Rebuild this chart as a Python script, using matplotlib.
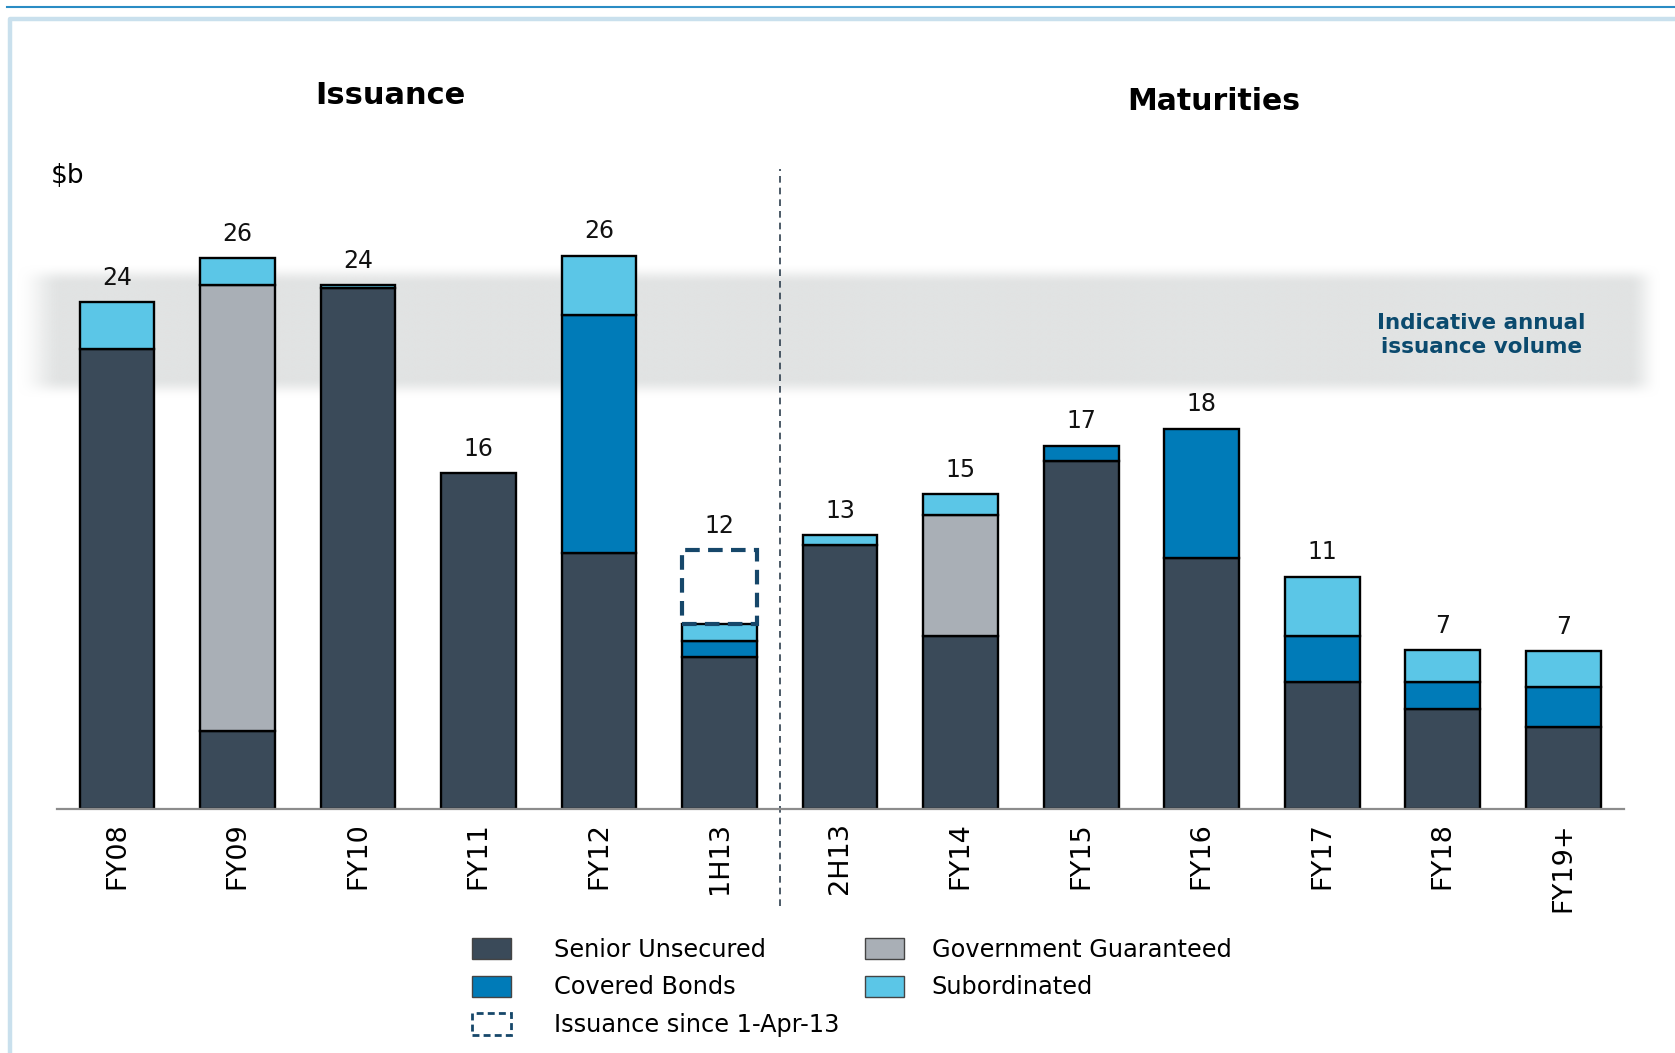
import numpy as np
import matplotlib
matplotlib.use('Agg')
import matplotlib.pyplot as plt
from matplotlib.patches import Patch
from matplotlib.lines import Line2D

# values in $b
cats = ['FY08', 'FY09', 'FY10', 'FY11', 'FY12', '1H13', '2H13',
        'FY14', 'FY15', 'FY16', 'FY17', 'FY18', 'FY19+']
senior = [21.8, 3.7, 24.7, 15.9, 12.1, 7.2, 12.5, 8.2, 16.5, 11.9, 6.0, 4.7, 3.85]
gov = [0, 21.1, 0, 0, 0, 0, 0, 5.7, 0, 0, 0, 0, 0]
covered = [0, 0, 0, 0, 11.3, 0.75, 0, 0, 0.7, 6.1, 2.2, 1.3, 1.9]
subord = [2.2, 1.3, 0.12, 0, 2.8, 0.8, 0.45, 1.0, 0, 0, 2.8, 1.5, 1.7]
since_apr = [0, 0, 0, 0, 0, 3.5, 0, 0, 0, 0, 0, 0, 0]
totals = [24, 26, 24, 16, 26, 12, 13, 15, 17, 18, 11, 7, 7]
band_lo, band_hi = 20.3, 24.9

c_senior = '#3a4a59'
c_gov = '#a9afb6'
c_cov = '#007bb8'
c_sub = '#5bc6e7'
c_dash = '#16476a'

fig = plt.figure(figsize=(16.75, 10.53), dpi=100)
ax = fig.add_axes([0.0338, 0.2321, 0.9355, 0.601])

x = np.arange(len(cats))
w = 0.62

# soft grey band
xs = np.linspace(-1.0, 13.0, 700)
ys = np.linspace(18.5, 27.0, 200)
def ramp(v, a, b):
    t = np.clip((v - a) / (b - a), 0, 1)
    return 0.5 - 0.5 * np.cos(np.pi * t)
ax_prof = ramp(xs, -0.85, -0.45) * (1 - ramp(xs, 12.55, 12.82))
ay_prof = ramp(ys, band_lo - 0.9, band_lo + 0.1) * (1 - ramp(ys, band_hi - 0.1, band_hi + 0.9))
alpha = np.outer(ay_prof[::-1], ax_prof)
img = np.zeros((len(ys), len(xs), 4))
img[..., 0] = 0xe1 / 255
img[..., 1] = 0xe3 / 255
img[..., 2] = 0xe3 / 255
img[..., 3] = alpha
ax.imshow(img, extent=[xs[0], xs[-1], ys[0], ys[-1]], aspect='auto',
          zorder=0, clip_on=False, interpolation='bilinear')

bottom = np.zeros(len(cats))
for vals, col in [(senior, c_senior), (gov, c_gov), (covered, c_cov), (subord, c_sub)]:
    vals = np.array(vals, dtype=float)
    m = vals > 0
    ax.bar(x[m], vals[m], w, bottom=bottom[m], color=col, edgecolor='black',
           linewidth=1.7, zorder=2)
    bottom += vals

sa = np.array(since_apr, dtype=float)
m = sa > 0
ax.bar(x[m], sa[m], w, bottom=bottom[m], facecolor='none', edgecolor=c_dash,
       linewidth=3, linestyle=(0, (3.5, 2)), zorder=3)
bottom += sa

for xi, top, t in zip(x, bottom, totals):
    ax.annotate(str(t), (xi, top), xytext=(0, 9), textcoords='offset points',
                ha='center', va='bottom', fontsize=17, color='#111111')

# divider between issuance and maturities
ax.plot([5.5, 5.5], [-4.6, 30.3], color='#2d3e4e', lw=1.2,
        linestyle=(0, (4, 3)), clip_on=False, zorder=1)

ax.text(11.32, (band_lo + band_hi) / 2 - 0.15, 'Indicative annual\nissuance volume',
        ha='center', va='center', fontsize=15.5, fontweight='bold', color='#0b4a6e',
        linespacing=1.25, zorder=4)

ax.set_xlim(-0.5, 12.5)
ax.set_ylim(0, 30)
ax.set_xticks(x)
ax.set_xticklabels(cats, rotation=90, fontsize=19.5)
ax.tick_params(axis='x', length=0, pad=10)
ax.set_yticks([])
for s in ['top', 'right', 'left']:
    ax.spines[s].set_visible(False)
ax.spines['bottom'].set_color('#8c8c8c')
ax.spines['bottom'].set_linewidth(1.6)
ax.patch.set_visible(False)

fig.text(390 / 1675, 1 - 96 / 1053, 'Issuance', ha='center', va='center',
         fontsize=22, fontweight='bold')
fig.text(1214 / 1675, 1 - 101 / 1053, 'Maturities', ha='center', va='center',
         fontsize=21.5, fontweight='bold')
fig.text(51 / 1675, 1 - 176 / 1053, '$b', ha='left', va='center', fontsize=19)

# legend, two columns with different text gaps
leg_kw = dict(loc='upper left', frameon=False, fontsize=17.3,
              handlelength=1.6, handleheight=0.98, labelspacing=0.57,
              borderpad=0, borderaxespad=0)
h1 = [Patch(facecolor=c_senior, edgecolor='#444444', lw=1),
      Patch(facecolor=c_cov, edgecolor='#444444', lw=1),
      Patch(facecolor='white', edgecolor=c_dash, lw=2, linestyle=(0, (2.5, 1.5)))]
l1 = ['Senior Unsecured', 'Covered Bonds', 'Issuance since 1-Apr-13']
h2 = [Patch(facecolor=c_gov, edgecolor='#444444', lw=1),
      Patch(facecolor=c_sub, edgecolor='#444444', lw=1)]
l2 = ['Government Guaranteed', 'Subordinated']
fig.legend(h1, l1, bbox_to_anchor=(0.282, 0.1094), handletextpad=1.8, **leg_kw)
fig.legend(h2, l2, bbox_to_anchor=(0.5166, 0.1094), handletextpad=1.16, **leg_kw)

# page frame
fig.add_artist(Line2D([7 / 1675, 1], [1 - 7 / 1053, 1 - 7 / 1053],
                      transform=fig.transFigure, color='#2a8cc4', lw=1.5))
fig.add_artist(Line2D([9.5 / 1675, 9.5 / 1675, 1], [0, 1 - 18.5 / 1053, 1 - 18.5 / 1053],
                      transform=fig.transFigure, color='#c9e0ed', lw=3.2))

fig.savefig('out.png', dpi=100)
